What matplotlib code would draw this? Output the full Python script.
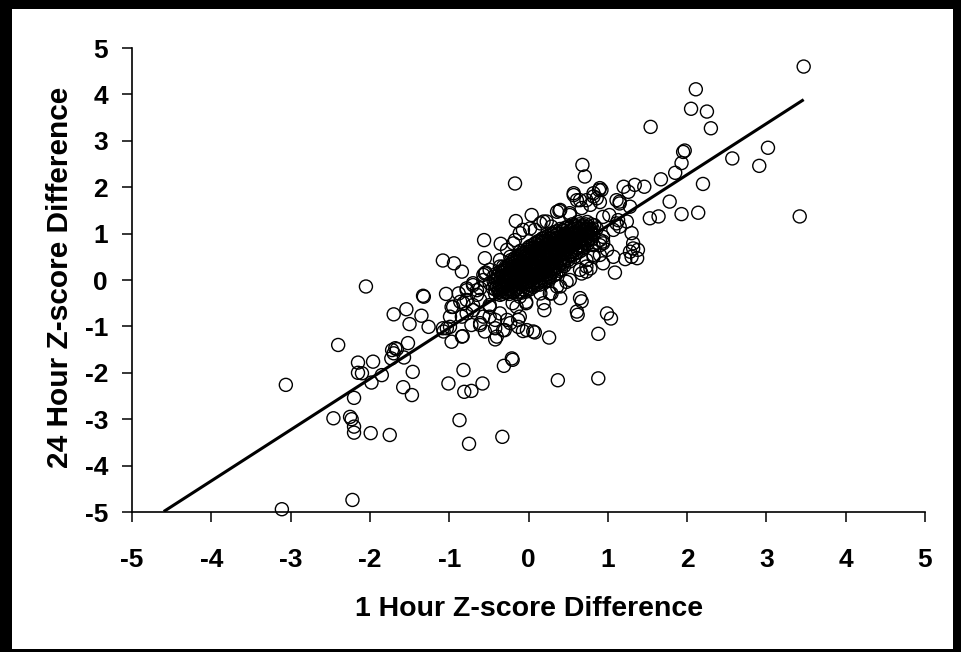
import matplotlib
matplotlib.use("Agg")
import matplotlib.pyplot as plt
from matplotlib.patches import Rectangle
import numpy as np

plt.rcParams['font.family'] = ['Liberation Sans', 'DejaVu Sans']

# ---------------- data ----------------
# individually readable points (outliers and halo around the dense core)
outer_x = [
    -2.05, -1.32, -1.54, -1.70, -1.35, -1.50, -2.40, -1.52, -1.72, -1.66, -1.73, -1.57,
    -2.15, -1.96, -1.46, -2.15, -2.10, -1.85, -1.98, -3.06, -1.58, -1.47, -2.20, -2.46,
    -2.25, -2.23, -2.20, -2.20, -1.99, -1.75, -2.22, -3.11,
    -1.08, -0.94, -0.84, -0.56, -0.35, -0.55, -0.54, -1.33, -1.04, -0.78, -0.97, -0.86,
    -0.61, -0.42, -0.30, -0.55, -0.42, -0.13, -0.02, 0.06, -0.97, -0.84, -1.08, -1.68, -1.70,
    -0.82, -1.01, -0.81, -0.72, -0.58, -0.31, -0.20, -0.87, -0.75, -0.33, 0.37, 0.88,
    0.88, 1.04, 0.62, 0.67, 0.26, 0.08, -0.07, 0.20, -0.32, -0.83, -1.03,
    3.47, 2.11, 2.05, 2.25, 2.30, 1.54, 1.97, 1.95, 1.93, 1.85, 3.02, 2.57, 2.91, 1.67,
    1.46, 1.34, 1.20, 1.26, 1.15, 1.28, 0.92, 2.20, 1.78, 1.93, 2.14, 1.53, 1.64, 3.42,
    1.02, 1.11, 1.30, 0.94, 1.32, 1.28, 1.37, 1.22, 1.07, 0.94, 1.09,
    0.68, 0.71, -0.17, 0.04, -0.16, 0.39, 0.57, 0.65, 0.86, 0.89, 0.78, 0.67, 0.52, 0.19,
    0.29, 0.08, -0.07, -0.17, 0.94, 0.86, 0.73, 0.90, 0.82, 0.73, 0.67, 0.48, 0.36, 0.29,
    0.19, 0.40, -0.03, -0.15, -0.11, -0.23, -0.36, -0.49, -0.61, -0.40, -0.70, -0.78,
    -0.65, -0.57, -0.49, -0.36, -0.27, -0.88, -0.84, -0.99, -1.07, -1.26, 1.07, 1.15,
    1.24, 1.32, 1.38, 1.30, 0.90, 1.11, 0.40, 0.78, 0.65, 0.61, 0.99, -0.57, -0.32,
    -0.70, -0.65, -0.49, 0.82, 0.82, 1.15, 1.13, 0.94, 0.90, -0.55, -0.13, -0.72, -0.70,
    -0.82, -0.95, -0.61, -0.49, -0.27, -0.42, -0.57, -0.78, -0.99, 0.15, -0.11, -0.70,
    -0.61, -0.78, -0.49, -0.21,
    0.02, 0.15, 0.23, 0.36, 0.52, 0.61, 0.73, 0.82, 0.90, 0.57,
    0.94, 0.82, 0.73, 0.65, 0.73, 0.90, 0.99,
    0.40, 0.27, 0.52, -0.03, -0.20, -0.36,
    -0.11, -0.19, -0.23, -0.36, -0.44,
]
outer_y = [
    -0.14, -0.36, -0.63, -0.74, -0.77, -0.95, -1.40, -1.36, -1.51, -1.49, -1.69, -1.67,
    -1.78, -1.76, -1.98, -2.00, -2.01, -2.05, -2.21, -2.26, -2.31, -2.48, -2.54, -2.98,
    -2.95, -3.00, -3.16, -3.29, -3.30, -3.34, -4.74, -4.94,
    0.42, 0.36, 0.18, 0.86, 0.78, 0.47, 0.16, -0.34, -0.30, -0.22, -0.58, -0.47,
    -0.97, -1.04, -1.08, -1.11, -1.28, -0.86, -1.08, -1.11, -1.33, -1.22, -1.04, -1.47, -1.58,
    -1.94, -2.23, -2.41, -2.39, -2.23, -1.85, -1.72, -3.02, -3.53, -3.38, -2.16, -2.12,
    -1.16, -0.83, -0.75, -0.46, -1.24, -1.13, -1.10, -0.65, -1.08, -1.21, -1.04,
    4.60, 4.11, 3.69, 3.63, 3.27, 3.30, 2.79, 2.76, 2.52, 2.31, 2.85, 2.62, 2.46, 2.17,
    2.01, 2.05, 2.01, 1.90, 1.69, 1.58, 1.94, 2.07, 1.69, 1.42, 1.45, 1.33, 1.37, 1.37,
    1.40, 1.22, 1.01, 0.79, 0.68, 0.61, 0.47, 0.45, 0.50, 0.36, 0.16,
    2.48, 2.23, 2.08, 1.40, 1.27, 1.49, 1.83, 1.72, 1.76, 1.94, 1.62, 1.55, 1.40, 1.26,
    1.15, 1.08, 1.08, 0.86, 1.36, 1.11, 1.01, 0.86, 0.50, 0.29, 0.14, -0.04, -0.14, -0.29,
    -0.50, -0.39, -0.47, -0.58, -0.79, -0.93, -0.72, -0.79, -0.93, -1.22, -0.65, -0.43,
    -0.22, 0.00, 0.22, 0.43, 0.65, -0.29, -0.79, -1.01, -1.11, -1.01, 1.08, 1.15,
    1.26, 0.79, 0.65, 0.50, 1.68, 1.72, 1.51, 0.25, -0.39, -0.68, -0.72, 0.11, 0.29,
    -0.11, -0.32, -0.54, 0.54, 1.80, 1.65, 1.29, 0.83, 0.75, 0.14, -1.01, -0.97, -0.54,
    -0.50, -0.58, -0.43, -0.58, -0.86, -0.86, -0.79, -0.72, -0.79, -0.29, -0.36, -0.07,
    -0.18, -0.18, -0.07, -1.69,
    1.11, 1.22, 1.26, 1.47, 1.44, 1.72, 1.72, 1.87, 1.98, 1.87,
    0.93, 0.75, 0.43, 0.22, 0.18, 0.54, 0.65,
    -0.14, -0.29, 0.00, -0.50, -0.50, -0.32,
    1.01, 0.79, 0.50, 0.29, 0.07,
]

# dense core of the cloud, read as rows of constant y (two interleaved sets)
core_row_y = [-0.30, -0.25, -0.20, -0.15, -0.10, -0.05, 0.00, 0.05, 0.10, 0.15, 0.20,
              0.25, 0.30, 0.35, 0.40, 0.45, 0.50, 0.55, 0.60, 0.65, 0.70, 0.75, 0.80,
              0.85, 0.90, 0.95, 1.00, 1.05, 1.10, 1.15, 1.20]
core_row_x = [
    [-0.42, -0.33, -0.24, -0.14],
    [-0.38, -0.29, -0.20, -0.11, -0.03],
    [-0.42, -0.33, -0.25, -0.16, -0.07, 0.02],
    [-0.40, -0.30, -0.21, -0.12, -0.03, 0.06],
    [-0.42, -0.33, -0.25, -0.16, -0.08, 0.01, 0.10, 0.14],
    [-0.37, -0.28, -0.20, -0.11, -0.03, 0.06, 0.15],
    [-0.41, -0.32, -0.24, -0.15, -0.07, 0.02, 0.10, 0.19, 0.25],
    [-0.35, -0.26, -0.18, -0.09, 0.00, 0.08, 0.17, 0.27],
    [-0.38, -0.29, -0.21, -0.12, -0.04, 0.05, 0.13, 0.22, 0.32],
    [-0.32, -0.23, -0.15, -0.06, 0.02, 0.11, 0.19, 0.28],
    [-0.33, -0.24, -0.16, -0.07, 0.02, 0.10, 0.19, 0.27, 0.38],
    [-0.26, -0.17, -0.09, 0.00, 0.08, 0.17, 0.25, 0.34],
    [-0.26, -0.18, -0.09, -0.01, 0.08, 0.16, 0.25, 0.33, 0.45],
    [-0.21, -0.12, -0.04, 0.05, 0.13, 0.22, 0.30, 0.40],
    [-0.20, -0.12, -0.03, 0.05, 0.14, 0.22, 0.31, 0.39, 0.52],
    [-0.14, -0.06, 0.03, 0.11, 0.20, 0.28, 0.37, 0.46],
    [-0.14, -0.06, 0.03, 0.11, 0.20, 0.28, 0.37, 0.45, 0.58],
    [-0.08, 0.01, 0.09, 0.18, 0.26, 0.35, 0.43, 0.53],
    [-0.07, 0.01, 0.10, 0.18, 0.27, 0.35, 0.44, 0.52, 0.63],
    [-0.02, 0.07, 0.15, 0.24, 0.32, 0.41, 0.49, 0.59],
    [0.00, 0.08, 0.17, 0.25, 0.34, 0.42, 0.51, 0.60, 0.70],
    [0.05, 0.14, 0.22, 0.31, 0.39, 0.48, 0.56, 0.66],
    [0.09, 0.17, 0.26, 0.34, 0.43, 0.51, 0.60, 0.72],
    [0.14, 0.23, 0.31, 0.40, 0.48, 0.57, 0.66, 0.75],
    [0.18, 0.26, 0.35, 0.43, 0.52, 0.60, 0.69, 0.78],
    [0.25, 0.33, 0.42, 0.50, 0.59, 0.67, 0.76],
    [0.29, 0.37, 0.46, 0.54, 0.63, 0.71, 0.79],
    [0.36, 0.44, 0.53, 0.61, 0.70, 0.78],
    [0.40, 0.49, 0.57, 0.66, 0.75, 0.81],
    [0.50, 0.59, 0.67, 0.76],
    [0.55, 0.64, 0.72, 0.79],
]
core2_row_y = [-0.27, -0.18, -0.12, -0.02, 0.03, 0.08, 0.13, 0.18, 0.23, 0.28, 0.33,
               0.38, 0.43, 0.48, 0.53, 0.58, 0.63, 0.68, 0.73, 0.78, 0.83, 0.88, 0.93,
               0.98, 1.03, 1.08, 1.13, 1.18, 1.25]
core2_row_x = [
    [-0.36, -0.27, -0.19, -0.08],
    [-0.45, -0.37, -0.23, -0.14, -0.01],
    [-0.36, -0.27, -0.19, -0.05, 0.05],
    [-0.44, -0.30, -0.22, -0.13, -0.01, 0.13, 0.21],
    [-0.39, -0.22, -0.12, 0.04, 0.13, 0.22],
    [-0.33, -0.25, -0.08, 0.02, 0.10, 0.26],
    [-0.41, -0.27, -0.10, -0.01, 0.16, 0.24, 0.35],
    [-0.36, -0.20, -0.11, 0.06, 0.14, 0.31],
    [-0.30, -0.13, -0.04, 0.13, 0.21, 0.30, 0.41],
    [-0.29, -0.21, -0.05, 0.04, 0.20, 0.37],
    [-0.24, -0.07, 0.02, 0.19, 0.28, 0.43],
    [-0.17, -0.08, 0.09, 0.18, 0.35, 0.44],
    [-0.22, -0.10, 0.00, 0.16, 0.25, 0.41, 0.50],
    [-0.17, -0.02, 0.08, 0.24, 0.33, 0.49],
    [-0.11, -0.03, 0.14, 0.22, 0.39, 0.55],
    [-0.05, 0.05, 0.21, 0.30, 0.46, 0.60],
    [-0.10, 0.03, 0.12, 0.28, 0.37, 0.54, 0.66],
    [0.04, 0.11, 0.28, 0.36, 0.45, 0.62],
    [0.02, 0.19, 0.27, 0.44, 0.53, 0.68],
    [0.08, 0.25, 0.35, 0.51, 0.60, 0.74],
    [0.12, 0.20, 0.37, 0.46, 0.63, 0.71],
    [0.17, 0.28, 0.44, 0.55, 0.72, 0.80],
    [0.22, 0.39, 0.47, 0.64, 0.73],
    [0.31, 0.45, 0.56, 0.68, 0.82],
    [0.33, 0.50, 0.58, 0.75],
    [0.43, 0.55, 0.71, 0.79],
    [0.47, 0.63, 0.73],
    [0.58, 0.69, 0.83],
    [0.62, 0.74],
]

# fitted trend line
fit_slope = 1.10
fit_intercept = 0.07
fit_x_range = [-4.60, 3.47]

x_ticks = [-5, -4, -3, -2, -1, 0, 1, 2, 3, 4, 5]
y_ticks = [-5, -4, -3, -2, -1, 0, 1, 2, 3, 4, 5]
x_label = "1 Hour Z-score Difference"
y_label = "24 Hour Z-score Difference"

# ---------------- assemble ----------------
core_x = [x for row in core_row_x for x in row] + [x for row in core2_row_x for x in row]
core_y = ([y for y, row in zip(core_row_y, core_row_x) for _ in row]
          + [y for y, row in zip(core2_row_y, core2_row_x) for _ in row])
all_x = np.array(outer_x + core_x)
all_y = np.array(outer_y + core_y)

# ---------------- figure ----------------
W, H = 962, 652
fig = plt.figure(figsize=(W / 100, H / 100), dpi=100)
fig.patch.set_facecolor('white')
ax = fig.add_axes([132 / W, 1 - 512 / H, (925 - 132) / W, (512 - 48) / H])

ax.scatter(all_x, all_y, s=88, facecolors='none', edgecolors='black',
           linewidths=1.0, zorder=2, clip_on=False)

lx = np.array(fit_x_range)
ax.plot(lx, fit_slope * lx + fit_intercept, color='black', lw=2.2, zorder=3,
        solid_capstyle='butt')

ax.set_xlim(-5, 5)
ax.set_ylim(-5, 5)
ax.set_xticks(x_ticks)
ax.set_yticks(y_ticks)
ax.set_xticklabels([str(t) for t in x_ticks])
ax.set_yticklabels([str(t) for t in y_ticks])

for side in ['top', 'right']:
    ax.spines[side].set_visible(False)
for side in ['left', 'bottom']:
    ax.spines[side].set_linewidth(1.2)
    ax.spines[side].set_color('black')

ax.tick_params(axis='both', direction='out', length=7.2, width=1.1, color='black',
               labelsize=19)
ax.tick_params(axis='x', pad=19)
ax.tick_params(axis='y', pad=10)
for lab in ax.get_xticklabels() + ax.get_yticklabels():
    lab.set_fontweight('bold')

ax.set_xlabel(x_label, fontsize=20.5, fontweight='bold', va='center', ha='center')
ax.set_ylabel(y_label, fontsize=21.5, fontweight='bold', va='center', ha='center')
ax.xaxis.set_label_coords((529 - 132) / 793, (512 - 609) / 464)
ax.yaxis.set_label_coords((60 - 132) / 793, (512 - 277) / 464)

# outer black frame of the picture
frame = [(0, 0, 12, H), (0, H - 9, W, 9), (W - 9, 0, 9, H), (0, 0, W, 3)]
for (x0, y0, w, h) in frame:
    fig.patches.append(Rectangle((x0 / W, y0 / H), w / W, h / H, transform=fig.transFigure,
                                 facecolor='black', edgecolor='none', zorder=10))

fig.savefig('out.png', dpi=100, facecolor='white')
